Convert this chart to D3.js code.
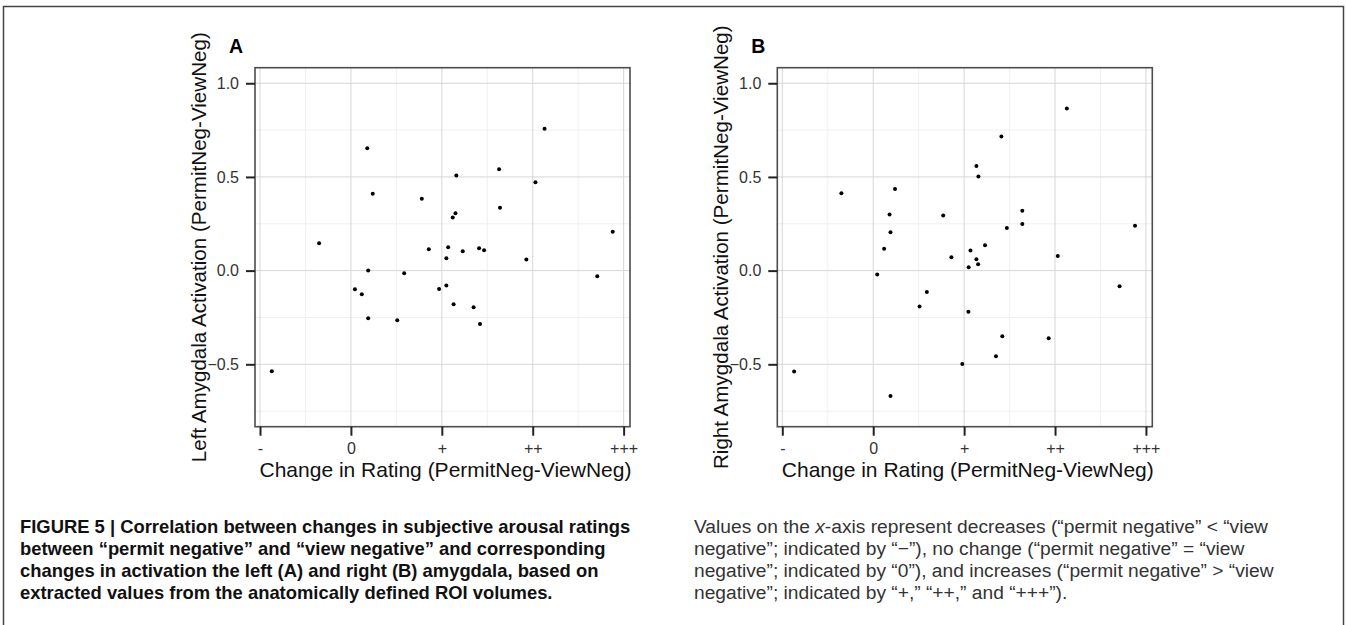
<!DOCTYPE html>
<html lang="en">
  <head>
    <meta charset="UTF-8" />
    <title>Figure 5 - Amygdala activation vs change in rating</title>
    <style>
      body {
        margin: 0;
        padding: 0;
        background: #fff;
      }
      svg {
        display: block;
        font-family: "Liberation Sans", Arial, sans-serif;
      }
      .tick text {
        fill: #333;
      }
      .caption-bold {
        font-family: "Liberation Sans Narrow", "Liberation Sans", Arial, sans-serif;
        font-weight: bold;
        font-size: 18.4px;
        fill: #111;
      }
      .caption {
        font-family: "Liberation Sans Narrow", "Liberation Sans", Arial, sans-serif;
        font-size: 19.2px;
        fill: #333;
      }
    </style>
  </head>
  <body>
    <svg id="fig"></svg>

    <script src="https://d3js.org/d3.v7.min.js"></script>
    <script>
      const width = 1346;
      const height = 625;

      // x axis: rating change categories
      const xTickValues = [-1, 0, 1, 2, 3];
      const xTickLabels = ["-", "0", "+", "++", "+++"];
      const xMinor = [-0.5, 0.5, 1.5, 2.5];
      const yTickValues = [-0.5, 0, 0.5, 1];
      const yMinor = [-0.75, -0.25, 0.25, 0.75];

      // panel A - left amygdala
      const leftX = [-0.87, -0.35, 0.044, 0.12, 0.18, 0.19, 0.19, 0.24, 0.51, 0.586, 0.78,
        0.857, 0.97, 1.05, 1.05, 1.07, 1.12, 1.15, 1.13, 1.16, 1.23, 1.35, 1.41, 1.42,
        1.465, 1.63, 1.64, 1.93, 2.03, 2.13, 2.71, 2.88];
      const leftY = [-0.537, 0.146, -0.1, -0.126, 0.653, 0.0, -0.254, 0.41, -0.265, -0.014, 0.383,
        0.114, -0.098, -0.08, 0.066, 0.125, 0.283, 0.306, -0.18, 0.507, 0.103, -0.196, 0.12, -0.285,
        0.109, 0.541, 0.336, 0.06, 0.472, 0.757, -0.03, 0.207];

      // panel B - right amygdala
      const rightX = [-0.87, -0.35, 0.044, 0.12, 0.18, 0.19, 0.19, 0.24, 0.51, 0.59, 0.77,
        0.86, 0.98, 1.047, 1.05, 1.07, 1.135, 1.157, 1.135, 1.154, 1.23, 1.35, 1.41, 1.42,
        1.47, 1.64, 1.64, 1.93, 2.03, 2.13, 2.71, 2.88];
      const rightY = [-0.539, 0.413, -0.021, 0.117, 0.299, 0.205, -0.669, 0.435, -0.192, -0.114, 0.294,
        0.071, -0.498, -0.22, 0.018, 0.107, 0.559, 0.502, 0.061, 0.034, 0.135, -0.457, 0.716, -0.35,
        0.228, 0.32, 0.249, -0.361, 0.078, 0.865, -0.083, 0.239];

      const xTitle = "Change in Rating (PermitNeg-ViewNeg)";

      const captionLeft = [
        "FIGURE 5 | Correlation between changes in subjective arousal ratings",
        "between \u201cpermit negative\u201d and \u201cview negative\u201d and corresponding",
        "changes in activation the left (A) and right (B) amygdala, based on",
        "extracted values from the anatomically defined ROI volumes.",
      ];

      const svg = d3.select("#fig").attr("width", width).attr("height", height);

      // outer frame of the figure (open at the bottom)
      svg
        .append("rect")
        .attr("x", 3.5)
        .attr("y", 6.5)
        .attr("width", 1340)
        .attr("height", 700)
        .attr("fill", "none")
        .attr("stroke", "#444")
        .attr("stroke-width", 1.5);

      const panelTop = 67.7;
      const panelBottom = 426.7;

      function drawPanel(left, letter, yTitle, xs, ys) {
        const right = left + 375;
        const x = d3.scaleLinear().domain([-1.055, 3.07]).range([left, right]);
        const y = d3.scaleLinear().domain([-0.833, 1.083]).range([panelBottom, panelTop]);

        const g = svg.append("g");

        // minor grid
        g.selectAll(".vminor")
          .data(xMinor)
          .join("line")
          .attr("x1", (d) => x(d))
          .attr("x2", (d) => x(d))
          .attr("y1", panelTop)
          .attr("y2", panelBottom)
          .attr("stroke", "#f0f0f0")
          .attr("stroke-width", 1);
        g.selectAll(".hminor")
          .data(yMinor)
          .join("line")
          .attr("x1", left)
          .attr("x2", right)
          .attr("y1", (d) => y(d))
          .attr("y2", (d) => y(d))
          .attr("stroke", "#f0f0f0")
          .attr("stroke-width", 1);

        // major grid
        g.selectAll(".vmajor")
          .data(xTickValues)
          .join("line")
          .attr("x1", (d) => x(d))
          .attr("x2", (d) => x(d))
          .attr("y1", panelTop)
          .attr("y2", panelBottom)
          .attr("stroke", "#d6d6d6")
          .attr("stroke-width", 1);
        g.selectAll(".hmajor")
          .data(yTickValues)
          .join("line")
          .attr("x1", left)
          .attr("x2", right)
          .attr("y1", (d) => y(d))
          .attr("y2", (d) => y(d))
          .attr("stroke", "#d6d6d6")
          .attr("stroke-width", 1);

        // points
        g.selectAll("circle")
          .data(xs.map((d, i) => [d, ys[i]]))
          .join("circle")
          .attr("cx", (d) => x(d[0]))
          .attr("cy", (d) => y(d[1]))
          .attr("r", 2)
          .attr("fill", "#000");

        // panel border
        g.append("rect")
          .attr("x", left)
          .attr("y", panelTop)
          .attr("width", right - left)
          .attr("height", panelBottom - panelTop)
          .attr("fill", "none")
          .attr("stroke", "#4d4d4d")
          .attr("stroke-width", 1.6);

        // axes
        const xAxis = d3
          .axisBottom(x)
          .tickValues(xTickValues)
          .tickFormat((d, i) => xTickLabels[i])
          .tickSize(9)
          .tickPadding(7);
        const gx = g.append("g").attr("transform", `translate(0,${panelBottom})`).call(xAxis);
        gx.select(".domain").remove();
        gx.selectAll(".tick line").attr("stroke", "#222").attr("stroke-width", 2);
        gx.selectAll(".tick text").attr("font-size", 16);

        const yAxis = d3
          .axisLeft(y)
          .tickValues(yTickValues)
          .tickFormat(d3.format(".1f"))
          .tickSize(9)
          .tickPadding(7);
        const gy = g.append("g").attr("transform", `translate(${left},0)`).call(yAxis);
        gy.select(".domain").remove();
        gy.selectAll(".tick line").attr("stroke", "#222").attr("stroke-width", 2);
        gy.selectAll(".tick text").attr("font-size", 16);

        // titles
        g.append("text")
          .attr("x", (left + right) / 2 + 3)
          .attr("y", 477)
          .attr("text-anchor", "middle")
          .attr("font-size", 21)
          .attr("fill", "#111")
          .text(xTitle);

        g.append("text")
          .attr("transform", `translate(${left - 49},${(panelTop + panelBottom) / 2}) rotate(-90)`)
          .attr("text-anchor", "middle")
          .attr("font-size", 20.6)
          .attr("fill", "#111")
          .text(yTitle);

        g.append("text")
          .attr("x", left - 26)
          .attr("y", 52.5)
          .attr("font-size", 19.5)
          .attr("font-weight", "bold")
          .attr("fill", "#000")
          .text(letter);
      }

      drawPanel(255, "A", "Left Amygdala Activation (PermitNeg-ViewNeg)", leftX, leftY);
      drawPanel(777.3, "B", "Right Amygdala Activation (PermitNeg-ViewNeg)", rightX, rightY);

      // captions
      const lineY = [533, 555, 577, 599];

      svg
        .selectAll(".caption-bold")
        .data(captionLeft)
        .join("text")
        .attr("class", "caption-bold")
        .attr("x", 20)
        .attr("y", (d, i) => lineY[i])
        .text((d) => d);

      const capX = 694;
      const l1 = svg.append("text").attr("class", "caption").attr("x", capX).attr("y", lineY[0]);
      l1.append("tspan").text("Values on the ");
      l1.append("tspan").attr("font-style", "italic").text("x");
      l1.append("tspan").text("-axis represent decreases (\u201cpermit negative\u201d < \u201cview");
      svg.append("text").attr("class", "caption").attr("x", capX).attr("y", lineY[1])
        .text("negative\u201d; indicated by \u201c\u2212\u201d), no change (\u201cpermit negative\u201d = \u201cview");
      svg.append("text").attr("class", "caption").attr("x", capX).attr("y", lineY[2])
        .text("negative\u201d; indicated by \u201c0\u201d), and increases (\u201cpermit negative\u201d > \u201cview");
      svg.append("text").attr("class", "caption").attr("x", capX).attr("y", lineY[3])
        .text("negative\u201d; indicated by \u201c+,\u201d \u201c++,\u201d and \u201c+++\u201d).");
    </script>
  </body>
</html>
